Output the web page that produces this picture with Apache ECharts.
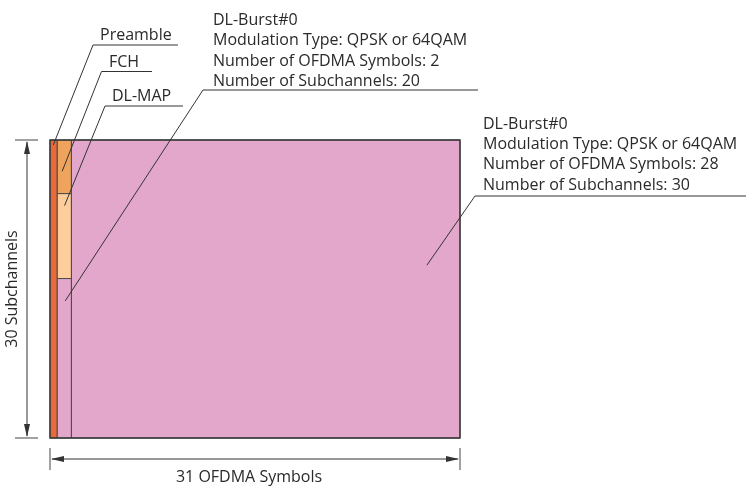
<!DOCTYPE html>
<html><head><meta charset="utf-8">
<script src="https://cdn.jsdelivr.net/npm/echarts@6/dist/echarts.min.js"></script>
<style>html,body{margin:0;padding:0;background:#fff}#c{width:747px;height:486px}</style>
</head><body><div id="c"></div>
<script>
// ---- data ----
const totalSymbols = 31;
const totalSubchannels = 30;
const regionNames = ['Preamble', 'FCH', 'DL-MAP', 'DL-Burst#0 (2 symbols)', 'DL-Burst#0 (28 symbols)'];
const symbolStart = [0, 0.55, 0.55, 0.55, 1.62];
const symbolEnd = [0.55, 1.62, 1.62, 1.62, 31];
const subchannelStart = [0, 0, 5.4, 13.95, 0];
const subchannelEnd = [30, 5.4, 13.95, 30, 30];
const regionColors = ['#E8693A', '#EFA45E', '#FDCD9B', '#E3A7CC', '#E3A7CC'];
const xTitle = '31 OFDMA Symbols';
const yTitle = '30 Subchannels';
const labelTexts = [
  ['Preamble'],
  ['FCH'],
  ['DL-MAP'],
  ['DL-Burst#0', 'Modulation Type: QPSK or 64QAM', 'Number of OFDMA Symbols: 2', 'Number of Subchannels: 20'],
  ['DL-Burst#0', 'Modulation Type: QPSK or 64QAM', 'Number of OFDMA Symbols: 28', 'Number of Subchannels: 30']
];
// leader target points (data coords: symbol, subchannel)
const leaderTargetSym = [0.25, 0.92, 1.1, 1.15, 28.5];
const leaderTargetSub = [0.5, 3.15, 6.6, 16.2, 12.6];

// ---- layout ----
const FONT = '"Open Sans", sans-serif';
const FS = 16;
const LH = 20.4;
const TXT = '#2a2a2a';
const LINE = '#333333';
const labelLayout = [
  {tx: 100, ty: 35, ux1: 93, ux2: 178, uy: 45},
  {tx: 109, ty: 62, ux1: 101.5, ux2: 152, uy: 71.5},
  {tx: 112, ty: 96, ux1: 105, ux2: 183, uy: 106},
  {tx: 213, ty: 20.5, ux1: 203, ux2: 478, uy: 90},
  {tx: 483, ty: 124, ux1: 475, ux2: 746, uy: 196}
];

const rects = regionNames.map((n, i) => [symbolStart[i], subchannelStart[i], symbolEnd[i], subchannelEnd[i], i]);

const chart = echarts.init(document.getElementById('c'), null, {renderer: 'canvas'});
chart.setOption({
  animation: false,
  grid: {left: 50, top: 140, width: 410, height: 298},
  xAxis: {type: 'value', min: 0, max: totalSymbols, show: false},
  yAxis: {type: 'value', min: 0, max: totalSubchannels, inverse: true, show: false},
  series: [{
    type: 'custom',
    data: rects,
    renderItem: function (params, api) {
      const p1 = api.coord([api.value(0), api.value(1)]);
      const p2 = api.coord([api.value(2), api.value(3)]);
      const i = api.value(4);
      return {
        type: 'rect',
        shape: {x: p1[0], y: p1[1], width: p2[0] - p1[0], height: p2[1] - p1[1]},
        style: {fill: regionColors[i], stroke: '#4a4a4a', lineWidth: 1}
      };
    }
  }]
});

const g = [];
const tl = chart.convertToPixel({gridIndex: 0}, [0, 0]);
const br = chart.convertToPixel({gridIndex: 0}, [totalSymbols, totalSubchannels]);
// outer frame
g.push({type: 'rect', shape: {x: tl[0], y: tl[1], width: br[0] - tl[0], height: br[1] - tl[1]},
  style: {fill: null, stroke: '#3a3a3a', lineWidth: 1.4}, z: 10});

// labels with leaders
labelTexts.forEach((lines, i) => {
  const L = labelLayout[i];
  lines.forEach((t, k) => {
    g.push({type: 'text', x: L.tx, y: L.ty + k * LH, z: 20,
      style: {text: t, fill: TXT, font: FS + 'px ' + FONT, textVerticalAlign: 'middle', textAlign: 'left'}});
  });
  g.push({type: 'line', z: 20, shape: {x1: L.ux1, y1: L.uy, x2: L.ux2, y2: L.uy}, style: {stroke: LINE, lineWidth: 1}});
  const tp = chart.convertToPixel({gridIndex: 0}, [leaderTargetSym[i], leaderTargetSub[i]]);
  g.push({type: 'line', z: 20, shape: {x1: L.ux1, y1: L.uy, x2: tp[0], y2: tp[1]}, style: {stroke: LINE, lineWidth: 1}});
});

// vertical dimension
const vx = 27;
g.push({type: 'line', shape: {x1: 15, y1: tl[1], x2: 38, y2: tl[1]}, style: {stroke: '#444', lineWidth: 1}});
g.push({type: 'line', shape: {x1: 15, y1: br[1], x2: 38, y2: br[1]}, style: {stroke: '#444', lineWidth: 1}});
g.push({type: 'line', shape: {x1: vx, y1: tl[1] + 2, x2: vx, y2: br[1] - 2}, style: {stroke: '#333', lineWidth: 1}});
g.push({type: 'polygon', shape: {points: [[vx, tl[1] + 1], [vx - 3, tl[1] + 14], [vx + 3, tl[1] + 14]]}, style: {fill: '#333'}});
g.push({type: 'polygon', shape: {points: [[vx, br[1] - 1], [vx - 3, br[1] - 14], [vx + 3, br[1] - 14]]}, style: {fill: '#333'}});
g.push({type: 'text', x: 12.5, y: (tl[1] + br[1]) / 2, rotation: Math.PI / 2,
  style: {text: yTitle, fill: TXT, font: FS + 'px ' + FONT, textAlign: 'center', textVerticalAlign: 'middle'}});

// horizontal dimension
const hy = 459;
g.push({type: 'line', shape: {x1: tl[0], y1: 448, x2: tl[0], y2: 470}, style: {stroke: '#444', lineWidth: 1}});
g.push({type: 'line', shape: {x1: br[0], y1: 448, x2: br[0], y2: 470}, style: {stroke: '#444', lineWidth: 1}});
g.push({type: 'line', shape: {x1: tl[0] + 2, y1: hy, x2: br[0] - 2, y2: hy}, style: {stroke: '#333', lineWidth: 1}});
g.push({type: 'polygon', shape: {points: [[tl[0] + 1, hy], [tl[0] + 14, hy - 3], [tl[0] + 14, hy + 3]]}, style: {fill: '#333'}});
g.push({type: 'polygon', shape: {points: [[br[0] - 1, hy], [br[0] - 14, hy - 3], [br[0] - 14, hy + 3]]}, style: {fill: '#333'}});
g.push({type: 'text', x: 249, y: 477,
  style: {text: xTitle, fill: TXT, font: FS + 'px ' + FONT, textAlign: 'center', textVerticalAlign: 'middle'}});

chart.setOption({graphic: g});
</script>
</body></html>
